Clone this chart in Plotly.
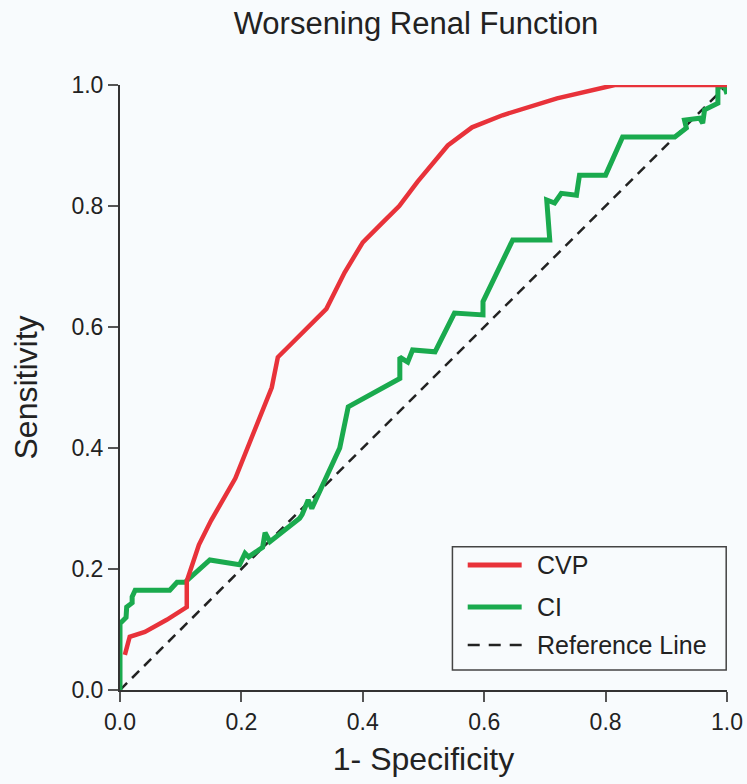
import plotly.graph_objects as go

# CVP ROC curve
cvp_fpr = [0.008, 0.016, 0.041, 0.077, 0.11, 0.11, 0.13, 0.15, 0.19, 0.21, 0.235, 0.25, 0.26,
           0.30, 0.34, 0.37, 0.40, 0.43, 0.46, 0.49, 0.54, 0.58, 0.63, 0.72, 0.815, 1.0]
cvp_tpr = [0.058, 0.088, 0.096, 0.116, 0.137, 0.18, 0.24, 0.28, 0.35, 0.40, 0.46, 0.50, 0.55,
           0.59, 0.63, 0.69, 0.74, 0.77, 0.80, 0.84, 0.90, 0.93, 0.95, 0.978, 1.0, 1.0]

# CI ROC curve
ci_fpr = [0.0, 0.0, 0.01, 0.011, 0.02, 0.02, 0.025, 0.082, 0.094, 0.107, 0.148, 0.197, 0.206,
          0.212, 0.235, 0.239, 0.247, 0.296, 0.30, 0.31, 0.316, 0.362, 0.376, 0.461, 0.461,
          0.474, 0.482, 0.519, 0.551, 0.598, 0.598, 0.647, 0.708, 0.703, 0.716, 0.727, 0.752,
          0.757, 0.80, 0.828, 0.914, 0.933, 0.93, 0.955, 0.96, 0.963, 0.985, 0.985, 0.995, 1.0]
ci_tpr = [0.0, 0.11, 0.12, 0.137, 0.144, 0.154, 0.165, 0.165, 0.178, 0.178, 0.215, 0.207, 0.226,
          0.22, 0.236, 0.26, 0.245, 0.284, 0.29, 0.314, 0.30, 0.40, 0.468, 0.515, 0.55,
          0.542, 0.562, 0.559, 0.623, 0.62, 0.642, 0.744, 0.744, 0.81, 0.805, 0.821, 0.818,
          0.851, 0.851, 0.914, 0.914, 0.929, 0.942, 0.945, 0.937, 0.959, 0.97, 0.995, 1.0, 0.985]

ref_x = [0.0, 1.0]
ref_y = [0.0, 1.0]

tick_vals = [0.0, 0.2, 0.4, 0.6, 0.8, 1.0]
tick_text = ["0.0", "0.2", "0.4", "0.6", "0.8", "1.0"]

legend_names = ["CVP", "CI", "Reference Line"]

FONT = "Liberation Sans, Arial, Helvetica, sans-serif"
BG = "#f8fbfd"
RED = "#e8323a"
GREEN = "#1aaa4e"
DARK = "#222222"

fig = go.Figure()
fig.add_trace(go.Scatter(x=ref_x, y=ref_y, mode="lines", name=legend_names[2],
                         line=dict(color=DARK, width=2.5, dash="10px,7px"), cliponaxis=False))
fig.add_trace(go.Scatter(x=ci_fpr, y=ci_tpr, mode="lines", name=legend_names[1],
                         line=dict(color=GREEN, width=5), cliponaxis=False))
fig.add_trace(go.Scatter(x=cvp_fpr, y=cvp_tpr, mode="lines", name=legend_names[0],
                         line=dict(color=RED, width=4.5), cliponaxis=False))

# Legend box drawn in paper coordinates
W_PX, H_PX, L_PX, T_PX = 607.5, 605.0, 120.0, 85.0
def px(xp):
    return (xp - L_PX) / W_PX
def py(yp):
    return (T_PX + H_PX - yp) / H_PX

fig.add_shape(type="rect", xref="paper", yref="paper",
              x0=px(452.7), x1=px(726.7), y0=py(670), y1=py(546.7),
              line=dict(color="#444444", width=1.5), fillcolor=BG, layer="above")
rows_y = [565, 607, 645]
styles = [dict(color=RED, width=5), dict(color=GREEN, width=5),
          dict(color=DARK, width=2.5, dash="12px,9px")]
for name, ry, st in zip(legend_names, rows_y, styles):
    fig.add_shape(type="line", xref="paper", yref="paper",
                  x0=px(468), x1=px(522), y0=py(ry), y1=py(ry), line=st, layer="above")
    fig.add_annotation(text=name, xref="paper", yref="paper", x=px(535), y=py(ry),
                       xanchor="left", yanchor="middle", showarrow=False,
                       font=dict(size=25, color=DARK))

fig.update_layout(
    width=747, height=784,
    margin=dict(l=120, r=19.5, t=85, b=94),
    paper_bgcolor=BG, plot_bgcolor=BG,
    font=dict(family=FONT, color=DARK, size=23),
    title=dict(text="Worsening Renal Function", xref="container", x=416 / 747, xanchor="center",
               y=1 - 34 / 784, yanchor="bottom", font=dict(size=31, color=DARK)),
    showlegend=False,
    xaxis=dict(range=[0, 1], tickvals=tick_vals, ticktext=tick_text, automargin=False,
               showgrid=False, zeroline=False, showline=True, linecolor="#333333", linewidth=2,
               ticks="outside", ticklen=10, tickwidth=2, tickcolor="#555555",
               title=dict(text="1- Specificity", font=dict(size=32), standoff=14)),
    yaxis=dict(range=[0, 1], tickvals=tick_vals, ticktext=tick_text, automargin=False,
               showgrid=False, zeroline=False, showline=True, linecolor="#333333", linewidth=2,
               ticks="outside", ticklen=10, tickwidth=2, tickcolor="#555555",
               title=dict(text="Sensitivity", font=dict(size=32), standoff=24)),
)

fig.write_html("out.html")
